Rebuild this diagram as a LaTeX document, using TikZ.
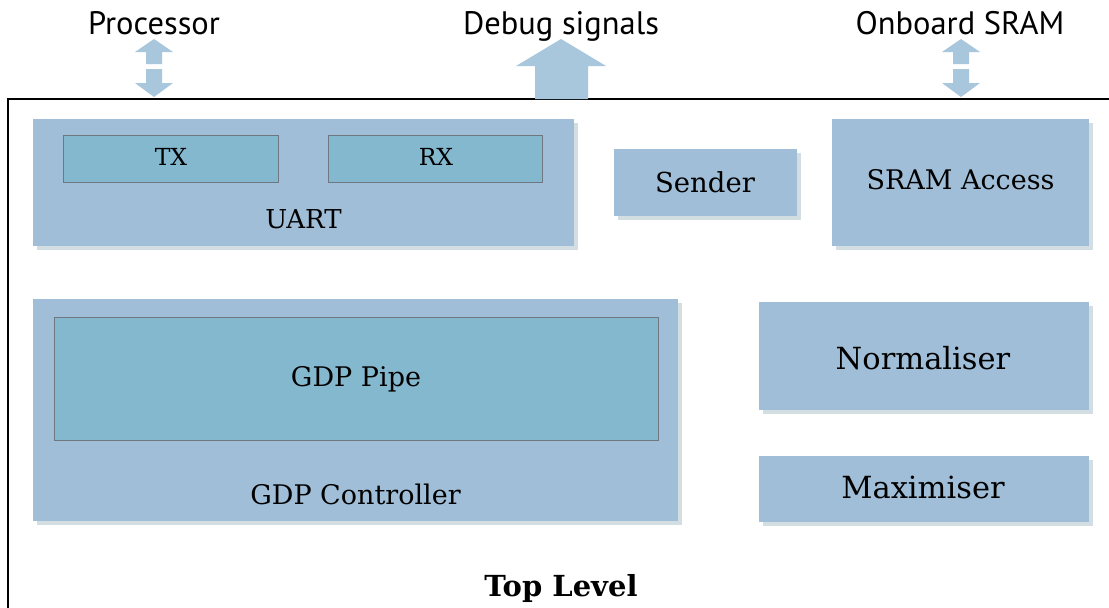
\documentclass[tikz,border=0pt]{standalone}
\usepackage{fontspec}
\setmainfont{DejaVu Serif}
\newfontfamily\labelfont{PT Sans}
\usetikzlibrary{shadows}
\definecolor{boxfill}{HTML}{A0BED7}
\definecolor{innerfill}{HTML}{84B8CF}
\definecolor{innerdraw}{HTML}{6E7880}
\definecolor{arrowfill}{HTML}{A8C6DC}
\definecolor{shadowcol}{HTML}{D3DEE3}
\tikzset{
  blk/.style={rectangle, fill=boxfill, draw=none, inner sep=0pt,
    drop shadow={shadow xshift=4pt, shadow yshift=-4pt, fill=shadowcol, opacity=1}},
  inner/.style={rectangle, fill=innerfill, draw=innerdraw, line width=1pt, inner sep=0pt},
  txt/.style={inner sep=0pt, font=\fontsize{#1}{#1}\selectfont},
  toplbl/.style={inner sep=0pt, anchor=base, font=\labelfont\fontsize{32.5}{32.5}\selectfont},
  barrow/.style={fill=arrowfill, draw=none}
}
\begin{document}
\begin{tikzpicture}[x=1pt,y=-1pt]
\useasboundingbox (0,0) rectangle (1109,608);
\clip (0,0) rectangle (1109,608);
\fill[white] (0,0) rectangle (1109,608);
% outer frame
\draw[line width=2pt] (8,630) -- (8,99) -- (1120,99);
% top labels
\node[toplbl] (proc) at (154,34) {Processor};
\node[toplbl] (dbg) at (561,34) {Debug signals};
\node[toplbl] (sram) at (960,34) {Onboard SRAM};
% block arrows
\foreach \cx in {154,961}{
  \fill[barrow] (\cx,39) -- (\cx+19,52) -- (\cx+8,52) -- (\cx+8,64) -- (\cx-8,64) -- (\cx-8,52) -- (\cx-19,52) -- cycle;
  \fill[barrow] (\cx,97) -- (\cx+19,83) -- (\cx+8,83) -- (\cx+8,69) -- (\cx-8,69) -- (\cx-8,83) -- (\cx-19,83) -- cycle;
}
\fill[barrow] (561,39) -- (606,66) -- (588,66) -- (588,99) -- (535,99) -- (535,66) -- (516,66) -- cycle;
% UART
\node[blk, minimum width=541pt, minimum height=127pt] (uart) at (303.5,182.5) {};
\node[inner, minimum width=215pt, minimum height=47pt] (tx) at (170.5,158.5) {};
\node[inner, minimum width=214pt, minimum height=47pt] (rx) at (435,158.5) {};
\node[txt=23.5] (txl) at (171,157) {TX};
\node[txt=23.5] (rxl) at (436,157) {RX};
\node[txt=26] (uartl) at (303.5,219) {UART};
% Sender
\node[blk, minimum width=183pt, minimum height=67pt] (sender) at (705.5,182.5) {};
\node[txt=27.5] (senderl) at (705,182) {Sender};
% SRAM Access
\node[blk, minimum width=257pt, minimum height=127pt] (sramacc) at (960.5,182.5) {};
\node[txt=27] (sramaccl) at (960.5,180) {SRAM Access};
% GDP Controller
\node[blk, minimum width=645pt, minimum height=222pt] (gdpc) at (355.5,410) {};
\node[inner, minimum width=604pt, minimum height=123pt] (gdpp) at (356,378.5) {};
\node[txt=27] (gdppl) at (356,379) {GDP Pipe};
\node[txt=27] (gdpcl) at (355.5,494) {GDP Controller};
% Normaliser, Maximiser
\node[blk, minimum width=330pt, minimum height=108pt] (norm) at (924,356) {};
\node[txt=30.5] (norml) at (923,358) {Normaliser};
\node[blk, minimum width=330pt, minimum height=66pt] (maxi) at (924,489) {};
\node[txt=30.5] (maxil) at (923,487) {Maximiser};
% Top level
\node[txt=29, font=\bfseries\fontsize{29}{29}\selectfont] (top) at (561,588) {Top Level};
\end{tikzpicture}
\end{document}
